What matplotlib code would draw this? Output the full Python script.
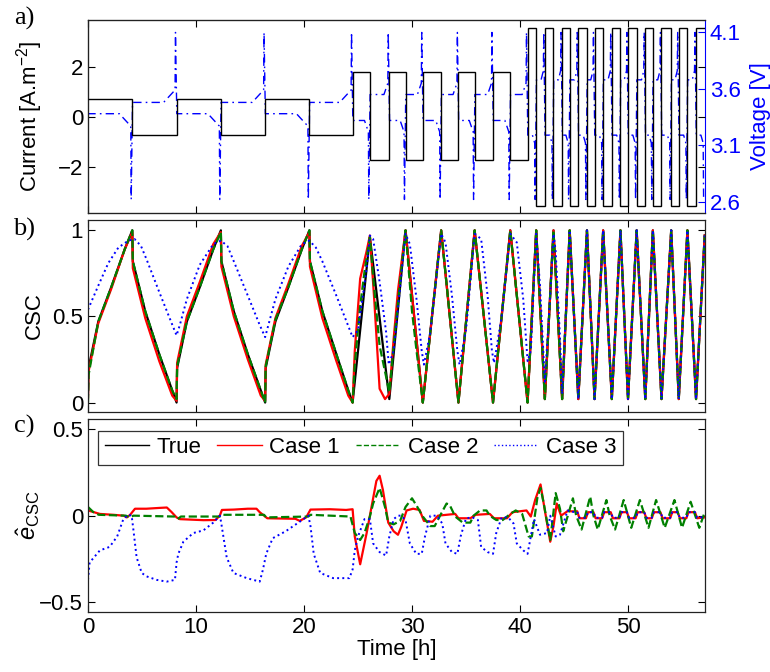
import matplotlib.pyplot as plt
from matplotlib.lines import Line2D

plt.rcParams['font.family'] = ['Liberation Sans', 'DejaVu Sans']
plt.rcParams['mathtext.fontset'] = 'custom'
plt.rcParams['mathtext.rm'] = 'Liberation Sans'
plt.rcParams['mathtext.it'] = 'Liberation Sans:italic'
plt.rcParams['axes.unicode_minus'] = True

FS = 16
GREEN = (0, 0.5, 0)

# --- panel a: current profile (switching instants in h, current in A/m2) ---
switch_t = [0, 4.1, 8.2, 12.3, 16.4, 20.5, 24.5,
            26.1, 27.9, 29.4, 31.0, 32.7, 34.3, 35.8, 37.5, 39.1, 40.7,
            41.5, 42.3, 43.1, 43.9, 44.6, 45.4, 46.2, 46.9, 47.7, 48.5,
            49.3, 50.0, 50.8, 51.6, 52.3, 53.1, 54.0, 54.7, 55.5, 56.3, 57.1]
current = [0.71, -0.72, 0.71, -0.72, 0.71, -0.72,
           1.78, -1.75, 1.78, -1.75, 1.78, -1.75, 1.78, -1.75, 1.78, -1.75,
           3.53, -3.57, 3.53, -3.57, 3.53, -3.57, 3.53, -3.57, 3.53, -3.57,
           3.53, -3.57, 3.53, -3.57, 3.53, -3.57, 3.53, -3.57, 3.53, -3.57, 3.53]
phase_len = [6, 10, 21]

# voltage shape per phase (charge / discharge plateau and knee) [V]
v_chg_flat = [3.38, 3.32, 3.19]
v_chg_knee = [3.27, 3.22, 3.12]
v_dis_flat = [3.48, 3.55, 3.68]
v_dis_knee = [3.59, 3.65, 3.76]
flat_end = [1.2, 0.5, 0.35]
v_low, v_high, v_start = 2.62, 4.1, 4.2

# --- panel b: CSC ---
csc_t_p1 = [0, 0.05, 0.95, 2.15, 3.4, 4.1, 4.15, 5.3, 6.6, 7.8,
            8.2, 8.25, 9.15, 10.35, 11.6, 12.3, 12.35, 13.5, 14.8, 16.0,
            16.4, 16.45, 17.35, 18.55, 19.8, 20.5, 20.55, 21.7, 23.0, 24.1]
csc_true_p1 = [0.05, 0.2, 0.47, 0.67, 0.89, 1.0, 0.82, 0.53, 0.28, 0.07,
               0.0, 0.2, 0.47, 0.67, 0.89, 1.0, 0.82, 0.53, 0.28, 0.07,
               0.0, 0.2, 0.47, 0.67, 0.89, 1.0, 0.82, 0.53, 0.28, 0.07]
csc_c1_p1 = [0.03, 0.18, 0.46, 0.66, 0.89, 0.99, 0.78, 0.49, 0.24, 0.04,
             0.01, 0.23, 0.5, 0.7, 0.92, 0.99, 0.79, 0.5, 0.25, 0.04,
             0.01, 0.22, 0.49, 0.69, 0.91, 0.99, 0.79, 0.49, 0.24, 0.04]
csc_c2_p1 = [0.0, 0.16, 0.47, 0.67, 0.89, 1.0, 0.82, 0.53, 0.28, 0.07,
             0.02, 0.21, 0.47, 0.67, 0.89, 0.99, 0.82, 0.53, 0.28, 0.07,
             0.0, 0.21, 0.48, 0.67, 0.89, 1.0, 0.82, 0.53, 0.28, 0.07]
# true CSC at switching instants from 24.5 h on
csc_sw = [0.0, 0.96, 0.02, 1.0, 0.0, 1.0, 0.0, 1.0, 0.0, 1.0, 0.0,
          1.0, 0.02, 1.0, 0.02, 1.0, 0.02, 1.0, 0.02, 1.0, 0.02,
          1.0, 0.02, 1.0, 0.02, 1.0, 0.02, 1.0, 0.02, 1.0, 0.02, 0.97]
c1_t_p2 = [24.5, 24.7, 25.2, 25.8, 26.1, 26.5, 27.0, 27.5, 27.9, 28.3, 28.7, 29.4]
c1_v_p2 = [0.0, 0.3, 0.72, 0.88, 0.97, 0.6, 0.08, 0.02, 0.05, 0.37, 0.65, 1.0]
c2_t_p2 = [24.5, 24.7, 25.2, 25.6, 26.1, 26.4, 27.0, 27.5, 27.9, 28.3, 29.0, 29.4,
           30.0, 30.4, 31.0]
c2_v_p2 = [0.0, 0.22, 0.56, 0.76, 0.96, 0.73, 0.33, 0.18, 0.06, 0.33, 0.77, 1.0,
           0.53, 0.31, 0.0]
c3_t = [0, 0.96, 1.88, 2.81, 3.73, 4.3, 4.9, 5.43, 6.67, 7.75, 8.2,
        8.5, 9.15, 10.35, 11.6, 12.3, 12.9, 13.5, 14.8, 15.9, 16.4,
        16.7, 17.35, 18.55, 19.8, 20.5, 21.1, 21.7, 23.0, 24.0, 24.5,
        25.0, 25.8, 26.1, 26.4, 27.0, 27.6, 27.85, 28.3, 29.4, 29.8,
        30.4, 30.9, 31.1, 31.7, 32.7, 33.1, 33.7, 34.2, 34.4, 35.0,
        35.8, 36.4, 37.0, 37.4, 37.6, 38.3, 39.1, 39.7, 40.3, 40.7,
        41.0, 41.5, 41.85, 42.3, 42.8, 43.1, 43.3, 43.7, 43.9]
c3_v = [0.54, 0.68, 0.81, 0.9, 0.94, 0.95, 0.91, 0.83, 0.63, 0.46, 0.39,
        0.45, 0.6, 0.8, 0.92, 0.94, 0.91, 0.82, 0.62, 0.45, 0.38,
        0.45, 0.6, 0.79, 0.92, 0.94, 0.9, 0.82, 0.62, 0.46, 0.38,
        0.42, 0.78, 0.97, 0.95, 0.7, 0.41, 0.22, 0.3, 0.98, 0.92,
        0.61, 0.3, 0.22, 0.41, 0.98, 0.93, 0.62, 0.3, 0.22, 0.42,
        0.98, 0.95, 0.62, 0.3, 0.23, 0.5, 0.98, 0.93, 0.6, 0.24,
        0.3, 0.98, 0.68, 0.12, 0.63, 0.98, 0.88, 0.38, 0.05]

# --- panel c: CSC estimation errors ---
e1_t = [0, 1.1, 2.35, 3.3, 3.6, 3.9, 4.35, 5.4, 6.7, 7.3,
        7.5, 7.75, 8.2, 8.5, 10.7, 11.8, 12.2, 12.4, 13.5, 14.8,
        15.6, 15.9, 16.3, 16.6, 19.2, 19.6, 20.2, 20.6, 22.4, 23.9,
        24.5, 24.7, 25.2, 25.8, 26.25, 26.7, 27.0, 27.3, 27.8, 28.3,
        28.7, 29.0, 29.5, 30.1, 30.7, 31.1, 31.9, 32.4, 34.0, 34.3,
        35.4, 35.9, 37.2, 37.6, 38.8, 39.3, 40.6, 41.0, 41.4, 41.9,
        42.3, 42.8, 43.1, 43.4, 43.8, 44.5]
e1_v = [0.03, 0.01, 0.005, 0.0, -0.01, 0.005, 0.04, 0.04, 0.045, 0.047,
        0.035, 0.02, -0.01, -0.02, -0.026, -0.025, 0.0, 0.033, 0.035, 0.04,
        0.04, 0.02, 0.0, -0.015, -0.018, -0.03, -0.01, 0.035, 0.037, 0.033,
        0.037, -0.12, -0.28, -0.1, 0.05, 0.2, 0.23, 0.15, -0.04, -0.09,
        -0.11, -0.065, 0.03, 0.04, 0.033, -0.03, -0.035, 0.0, 0.01, -0.015,
        -0.015, 0.005, 0.01, -0.015, -0.015, 0.02, 0.03, -0.005, 0.09, 0.18,
        0.03, -0.15, -0.06, 0.07, 0.0, 0.03]
sq_t = [44.7, 45.3, 45.5, 46.1, 46.3, 46.8, 47.0, 47.6, 47.8, 48.4,
        48.6, 49.2, 49.4, 49.9, 50.1, 50.7, 50.9, 51.5, 51.7, 52.2,
        52.4, 53.0, 53.2, 53.9, 54.1, 54.6, 54.8, 55.4, 55.6, 56.2,
        56.4, 57.1]
e1_sq = [0.025, 0.025, -0.015, -0.015, 0.02, 0.02, -0.015, -0.015, 0.02, 0.02,
         -0.015, -0.015, 0.02, 0.02, -0.015, -0.015, 0.02, 0.02, -0.015, -0.015,
         0.02, 0.02, -0.015, -0.015, 0.02, 0.02, -0.015, -0.015, 0.02, 0.02,
         -0.015, -0.01]
e3_sq = [0.022, 0.022, -0.012, -0.012, 0.02, 0.02, -0.012, -0.012, 0.02, 0.02,
         -0.012, -0.012, 0.02, 0.02, -0.012, -0.012, 0.02, 0.02, -0.012, -0.012,
         0.02, 0.02, -0.012, -0.012, 0.02, 0.02, -0.012, -0.012, 0.02, 0.02,
         -0.012, -0.008]
e2_t = [0, 0.5, 1.0, 3.5, 3.9, 4.2, 8.0, 8.3, 8.6, 12.2,
        12.4, 16.3, 16.5, 20.4, 20.6, 24.3, 24.7, 25.2, 25.6, 26.1,
        26.4, 27.0, 27.5, 27.8, 28.3, 28.9, 29.4, 30.0, 30.4, 31.0,
        31.7, 32.1, 32.6, 33.2, 33.5, 34.0, 34.7, 35.4, 35.7, 36.3,
        36.9, 37.2, 37.8, 38.4, 39.0, 39.6, 40.2, 40.8, 41.1, 41.6,
        41.9, 42.2, 42.8, 43.3, 43.7, 44.0, 44.9, 45.2, 45.7, 46.5,
        46.8, 47.2, 48.0, 48.3, 48.8, 49.6, 50.3, 51.1, 51.9, 52.6,
        53.4, 54.3, 55.0, 55.8, 56.6, 57.1]
e2_v = [0.05, 0.02, 0.005, 0.0, -0.01, 0.0, -0.005, -0.02, -0.005, -0.005,
        0.005, 0.005, -0.01, -0.005, 0.005, -0.005, -0.1, -0.14, -0.1, -0.005,
        0.07, 0.16, 0.05, -0.04, -0.05, -0.03, 0.05, 0.1, 0.06, -0.005,
        -0.06, -0.06, 0.0, 0.07, 0.06, -0.005, -0.04, -0.04, 0.0, 0.03,
        0.03, 0.0, -0.025, -0.025, 0.005, 0.03, 0.01, -0.12, -0.12, 0.1,
        0.16, 0.07, -0.14, 0.13, 0.04, -0.09, 0.1, 0.0, -0.08, 0.11,
        0.0, -0.08, 0.09, 0.0, -0.08, 0.09, -0.07, 0.09, -0.07, 0.09,
        -0.07, 0.09, -0.07, 0.08, -0.07, 0.02]
e3_t = [0, 0.15, 1.1, 2.0, 2.7, 3.27, 3.73, 4.04, 4.2, 4.5,
        4.97, 5.43, 6.36, 7.28, 8.05, 8.2, 8.36, 8.83, 9.75, 10.68,
        11.6, 12.22, 12.38, 12.84, 13.46, 14.7, 15.9, 16.2, 16.5, 17.1,
        18.3, 19.6, 20.4, 20.6, 20.9, 21.5, 22.7, 24.2, 24.5, 24.7,
        25.0, 25.6, 26.1, 26.4, 27.0, 27.6, 27.9, 28.3, 28.7, 29.0,
        29.4, 29.8, 30.4, 30.9, 31.2, 31.7, 32.3, 32.8, 33.1, 33.7,
        34.2, 34.5, 35.0, 35.6, 36.1, 36.4, 37.0, 37.5, 37.8, 38.3,
        38.9, 39.4, 39.7, 40.3, 40.7, 41.0, 41.3, 41.85, 42.5, 42.8,
        43.3, 43.7, 44.4]
e3_v = [-0.37, -0.27, -0.2, -0.18, -0.12, -0.02, 0.005, 0.0, -0.08, -0.24,
        -0.33, -0.35, -0.37, -0.38, -0.37, -0.27, -0.22, -0.15, -0.1, -0.085,
        -0.04, 0.0, -0.06, -0.24, -0.33, -0.36, -0.38, -0.31, -0.22, -0.13,
        -0.09, -0.035, 0.0, -0.06, -0.22, -0.33, -0.36, -0.36, -0.31, -0.2,
        -0.12, -0.02, -0.02, -0.16, -0.21, -0.23, -0.12, -0.02, 0.0, 0.0,
        -0.025, -0.16, -0.22, -0.22, -0.12, 0.0, 0.0, -0.045, -0.16, -0.21,
        -0.22, -0.12, -0.015, -0.01, -0.025, -0.18, -0.21, -0.22, -0.1, -0.01,
        -0.01, -0.045, -0.16, -0.2, -0.22, -0.12, -0.02, -0.11, -0.1, 0.0,
        -0.12, -0.11, 0.03]

XMAX = 57.13


def style(ax):
    ax.set_xlim(0, XMAX)
    ax.set_xticks([0, 10, 20, 30, 40, 50])
    ax.tick_params(direction='in', length=5, width=0.8, top=True, right=True,
                   labelsize=FS, colors='k')
    for s in ax.spines.values():
        s.set_linewidth(0.9)
        s.set_color('#222222')


# voltage trace built from the per-phase shape values
phase = []
for p, n in enumerate(phase_len):
    phase += [p] * n
volt_t, volt_v = [0], [v_start]
for i, cur in enumerate(current):
    ts, te, p = switch_t[i], switch_t[i + 1], phase[i]
    if cur > 0:
        flat, knee, ext = v_chg_flat[p], v_chg_knee[p], v_low
    else:
        flat, knee, ext = v_dis_flat[p], v_dis_knee[p], v_high
    volt_t += [ts + 0.02, te - flat_end[p], te - 0.14, te - 0.1]
    volt_v += [flat, flat, knee, ext]

fig = plt.figure(figsize=(7.7, 6.72), dpi=100)
ax_a = fig.add_axes([0.1143, 0.6830, 0.8013, 0.2872])
ax_b = fig.add_axes([0.1143, 0.3869, 0.8013, 0.2857])
ax_c = fig.add_axes([0.1143, 0.0893, 0.8013, 0.2872])

# panel a
ax_v = ax_a.twinx()
ax_v.plot(volt_t, volt_v, color='b', lw=1.0, dashes=(6, 3, 1.2, 3))
ax_v.set_ylim(2.50, 4.21)
ax_v.set_yticks([2.6, 3.1, 3.6, 4.1])
ax_v.tick_params(direction='in', length=5, width=0.8, labelsize=FS, colors='b')
ax_v.spines['right'].set_color('b')
ax_v.set_ylabel('Voltage [V]', fontsize=FS, color='b')
ax_v.yaxis.set_label_coords(1.073, 0.5)

ax_a.stairs(current, switch_t, baseline=None, color='k', lw=1.0, zorder=3)
ax_a.set_zorder(ax_v.get_zorder() + 1)
ax_a.patch.set_visible(False)
style(ax_a)
ax_a.set_ylim(-3.85, 3.86)
ax_a.set_yticks([-2, 0, 2])
ax_a.tick_params(labelbottom=False)
ax_a.set_ylabel('Current [A.m$^{-2}$]', fontsize=FS)
ax_a.yaxis.set_label_coords(-0.07, 0.5)
ax_a.spines['right'].set_visible(False)

# panel b
true_t = csc_t_p1 + switch_t[6:]
true_v = csc_true_p1 + csc_sw
c1_t = csc_t_p1 + c1_t_p2 + switch_t[10:]
c1_v = csc_c1_p1 + c1_v_p2 + csc_sw[4:]
c2_t = csc_t_p1 + c2_t_p2 + switch_t[11:]
c2_v = csc_c2_p1 + c2_v_p2 + csc_sw[5:]
c3_tt = c3_t + switch_t[21:]
c3_vv = c3_v + csc_sw[15:]
ax_b.plot(true_t, true_v, color='k', lw=1.6)
ax_b.plot(c1_t, c1_v, color='r', lw=1.6)
ax_b.plot(c2_t, c2_v, color=GREEN, lw=1.6, ls='--')
ax_b.plot(c3_tt, c3_vv, color='b', lw=1.4, ls=':')
style(ax_b)
ax_b.set_ylim(-0.055, 1.06)
ax_b.set_yticks([0, 0.5, 1])
ax_b.set_yticklabels(['0', '0.5', '1'])
ax_b.tick_params(labelbottom=False)
ax_b.set_ylabel('CSC', fontsize=FS)
ax_b.yaxis.set_label_coords(-0.07, 0.5)

# panel c
ax_c.plot(e1_t + sq_t, e1_v + e1_sq, color='r', lw=1.6)
ax_c.plot(e2_t, e2_v, color=GREEN, lw=1.6, ls='--')
ax_c.plot(e3_t + sq_t, e3_v + e3_sq, color='b', lw=1.4, ls=':')
style(ax_c)
ax_c.set_ylim(-0.555, 0.557)
ax_c.set_yticks([-0.5, 0, 0.5])
ax_c.set_yticklabels(['\u22120.5', '0', '0.5'])
ax_c.set_xlabel('Time [h]', fontsize=FS, labelpad=1)
ax_c.set_ylabel(r'$\hat{e}_{\mathrm{CSC}}$', fontsize=FS + 1)
ax_c.yaxis.set_label_coords(-0.075, 0.5)

handles = [Line2D([], [], color='k', lw=1.0),
           Line2D([], [], color='r', lw=1.0),
           Line2D([], [], color=GREEN, lw=1.0, ls='--'),
           Line2D([], [], color='b', lw=1.0, ls=':')]
leg = ax_c.legend(handles, ['True', 'Case 1', 'Case 2', 'Case 3'], ncol=4,
                  loc='upper left', bbox_to_anchor=(0.016, 0.94),
                  fontsize=FS, frameon=True, fancybox=False,
                  handlelength=2.0, handletextpad=0.35, columnspacing=0.7,
                  borderpad=0.3, borderaxespad=0)
leg.get_frame().set_edgecolor('k')
leg.get_frame().set_linewidth(0.9)

for lab, y in [('a)', 0.972), ('b)', 0.659), ('c)', 0.366)]:
    fig.text(0.031, y, lab, fontsize=19, family='Liberation Serif',
             ha='center', va='center')

fig.savefig('out.png', dpi=100)
